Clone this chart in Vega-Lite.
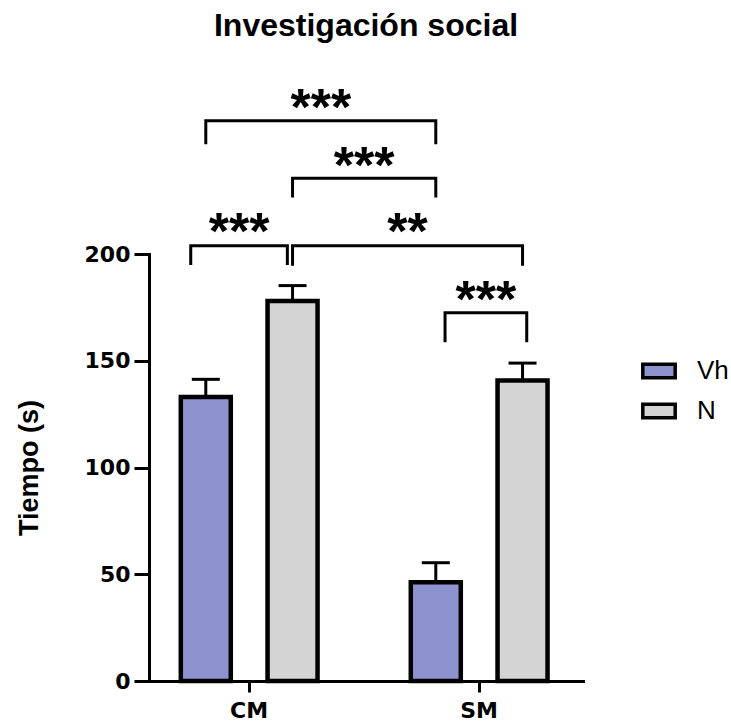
{
  "$schema": "https://vega.github.io/schema/vega-lite/v6.json",
  "width": 434,
  "height": 427,
  "autosize": "none",
  "padding": {"left": 149, "top": 254, "right": 148, "bottom": 41},
  "background": "white",
  "title": {"text": "Investigación social", "font": "Liberation Sans", "fontSize": 32, "fontWeight": "bold", "color": "black", "anchor": "middle", "offset": 40},
  "config": {
    "view": {"stroke": null},
    "axis": {"grid": false, "domainColor": "black", "domainWidth": 3, "domainCap": "square", "tickColor": "black", "tickWidth": 3, "labelColor": "black", "labelFont": "DejaVu Sans", "labelFontSize": 22, "labelFontWeight": "bold"}
  },
  "datasets": {
    "bars": [
      {"group": "CM", "treatment": "Vh", "mean": 133, "upper": 141.3},
      {"group": "CM", "treatment": "N", "mean": 178, "upper": 185.2},
      {"group": "SM", "treatment": "Vh", "mean": 46.3, "upper": 55.4},
      {"group": "SM", "treatment": "N", "mean": 140.7, "upper": 148.9}
    ],
    "brackets": [
      {"id": "A", "group": "CM", "slot": "Vh", "y": 252.1, "ord": 1},
      {"id": "A", "group": "CM", "slot": "Vh", "y": 262.4, "ord": 2},
      {"id": "A", "group": "SM", "slot": "Vh", "y": 262.4, "ord": 3},
      {"id": "A", "group": "SM", "slot": "Vh", "y": 252.1, "ord": 4},
      {"id": "B", "group": "CM", "slot": "N", "y": 227.2, "ord": 1},
      {"id": "B", "group": "CM", "slot": "N", "y": 235.5, "ord": 2},
      {"id": "B", "group": "SM", "slot": "Vh", "y": 235.5, "ord": 3},
      {"id": "B", "group": "SM", "slot": "Vh", "y": 227.2, "ord": 4},
      {"id": "C", "group": "CM", "slot": "N", "y": 195.2, "ord": 1},
      {"id": "C", "group": "CM", "slot": "N", "y": 203.9, "ord": 2},
      {"id": "C", "group": "SM", "slot": "N", "y": 203.9, "ord": 3},
      {"id": "C", "group": "SM", "slot": "N", "y": 195.2, "ord": 4},
      {"id": "D", "group": "CM", "slot": "Vh", "y": 195.6, "ord": 1},
      {"id": "D", "group": "CM", "slot": "Vh", "y": 203.9, "ord": 2},
      {"id": "D", "group": "CM", "slot": "N", "y": 203.9, "ord": 3},
      {"id": "D", "group": "CM", "slot": "N", "y": 195.6, "ord": 4},
      {"id": "E", "group": "SM", "slot": "Vh", "y": 159.4, "ord": 1},
      {"id": "E", "group": "SM", "slot": "Vh", "y": 172.5, "ord": 2},
      {"id": "E", "group": "SM", "slot": "N", "y": 172.5, "ord": 3},
      {"id": "E", "group": "SM", "slot": "N", "y": 159.4, "ord": 4}
    ],
    "labels": [
      {"id": "A", "label": "***", "group": "gap", "slot": "Vh", "y": 267.8},
      {"id": "B", "label": "***", "group": "gap", "slot": "mid", "y": 240.7},
      {"id": "C", "label": "**", "group": "gap", "slot": "N", "y": 209.7},
      {"id": "D", "label": "***", "group": "CM", "slot": "mid", "y": 209.7},
      {"id": "E", "label": "***", "group": "SM", "slot": "mid", "y": 178.0}
    ]
  },
  "encoding": {
    "x": {"field": "group", "type": "nominal", "title": null,
          "scale": {"domain": ["CM", "gap", "SM"], "paddingInner": 0, "paddingOuter": 0.387, "align": 0.478},
          "axis": {"values": ["CM", "SM"], "labelAngle": 0, "tickSize": 11, "labelPadding": 8}}
  },
  "layer": [
    {
      "data": {"name": "bars"},
      "encoding": {
        "xOffset": {"field": "treatment", "type": "nominal",
                    "scale": {"domain": ["Vh", "N"], "range": [-10.75, 126], "paddingInner": 0.4236, "paddingOuter": 0}}
      },
      "layer": [
        {
          "mark": {"type": "rule", "color": "black", "strokeWidth": 3},
          "encoding": {
            "y": {"field": "mean", "type": "quantitative", "title": "Tiempo (s)",
                  "scale": {"domain": [0, 200], "nice": false},
                  "axis": {"values": [0, 50, 100, 150, 200], "tickSize": 15, "labelPadding": 4,
                           "titleFont": "Liberation Sans", "titleFontSize": 27, "titleFontWeight": "bold", "titleColor": "black", "titleX": -105.5}},
            "y2": {"field": "upper"}
          }
        },
        {
          "mark": {"type": "bar", "stroke": "black", "strokeWidth": 4.5, "strokeJoin": "miter", "opacity": 1},
          "encoding": {
            "y": {"field": "mean", "type": "quantitative"},
            "fill": {"field": "treatment", "type": "nominal",
                     "scale": {"domain": ["Vh", "N"], "range": ["#8C93CE", "#D4D4D4"]},
                     "legend": {"orient": "none", "legendX": 492, "legendY": 99, "title": null, "padding": 0,
                                "symbolType": "M-1,-0.42H1V0.42H-1Z", "symbolSize": 1050,
                                "symbolStrokeColor": "black", "symbolStrokeWidth": 3.5, "symbolOpacity": 1,
                                "labelFont": "Liberation Sans", "labelFontSize": 26, "labelColor": "black",
                                "labelOffset": 20, "rowPadding": 8}}
          }
        },
        {
          "mark": {"type": "tick", "orient": "horizontal", "color": "black", "thickness": 3, "size": 28, "opacity": 1},
          "encoding": {"y": {"field": "upper", "type": "quantitative"}}
        }
      ]
    },
    {
      "layer": [
        {
          "data": {"name": "brackets"},
          "transform": [{"filter": {"field": "id", "oneOf": ["A", "B", "C"]}}],
          "mark": {"type": "line", "color": "black", "strokeWidth": 3, "strokeJoin": "miter", "strokeCap": "square"},
          "encoding": {
            "xOffset": {"field": "slot", "type": "nominal", "scale": {"type": "point", "domain": ["Vh", "mid", "N"], "range": [14.25, 101], "padding": 0}},
            "y": {"field": "y", "type": "quantitative"},
            "detail": {"field": "id"},
            "order": {"field": "ord"}
          }
        },
        {
          "data": {"name": "labels"},
          "transform": [{"filter": {"field": "id", "oneOf": ["A", "B", "C"]}}],
          "mark": {"type": "text", "font": "Liberation Sans", "fontWeight": "bold", "fontSize": 52, "baseline": "middle", "align": "center", "color": "black"},
          "encoding": {
            "xOffset": {"field": "slot", "type": "nominal"},
            "y": {"field": "y", "type": "quantitative"},
            "text": {"field": "label"}
          }
        }
      ]
    },
    {
      "layer": [
        {
          "data": {"name": "brackets"},
          "transform": [{"filter": {"field": "id", "equal": "D"}}],
          "mark": {"type": "line", "color": "black", "strokeWidth": 3, "strokeJoin": "miter", "strokeCap": "square"},
          "encoding": {
            "xOffset": {"field": "slot", "type": "nominal", "scale": {"type": "point", "domain": ["Vh", "mid", "N"], "range": [-0.8, 95.8], "padding": 0}},
            "y": {"field": "y", "type": "quantitative"},
            "order": {"field": "ord"}
          }
        },
        {
          "data": {"name": "labels"},
          "transform": [{"filter": {"field": "id", "equal": "D"}}],
          "mark": {"type": "text", "font": "Liberation Sans", "fontWeight": "bold", "fontSize": 52, "baseline": "middle", "align": "center", "color": "black"},
          "encoding": {
            "xOffset": {"field": "slot", "type": "nominal"},
            "y": {"field": "y", "type": "quantitative"},
            "text": {"field": "label"}
          }
        }
      ]
    },
    {
      "layer": [
        {
          "data": {"name": "brackets"},
          "transform": [{"filter": {"field": "id", "equal": "E"}}],
          "mark": {"type": "line", "color": "black", "strokeWidth": 3, "strokeJoin": "miter", "strokeCap": "square"},
          "encoding": {
            "xOffset": {"field": "slot", "type": "nominal", "scale": {"type": "point", "domain": ["Vh", "mid", "N"], "range": [23.5, 105.2], "padding": 0}},
            "y": {"field": "y", "type": "quantitative"},
            "order": {"field": "ord"}
          }
        },
        {
          "data": {"name": "labels"},
          "transform": [{"filter": {"field": "id", "equal": "E"}}],
          "mark": {"type": "text", "font": "Liberation Sans", "fontWeight": "bold", "fontSize": 52, "baseline": "middle", "align": "center", "color": "black"},
          "encoding": {
            "xOffset": {"field": "slot", "type": "nominal"},
            "y": {"field": "y", "type": "quantitative"},
            "text": {"field": "label"}
          }
        }
      ]
    }
  ],
  "resolve": {"scale": {"xOffset": "independent"}}
}
